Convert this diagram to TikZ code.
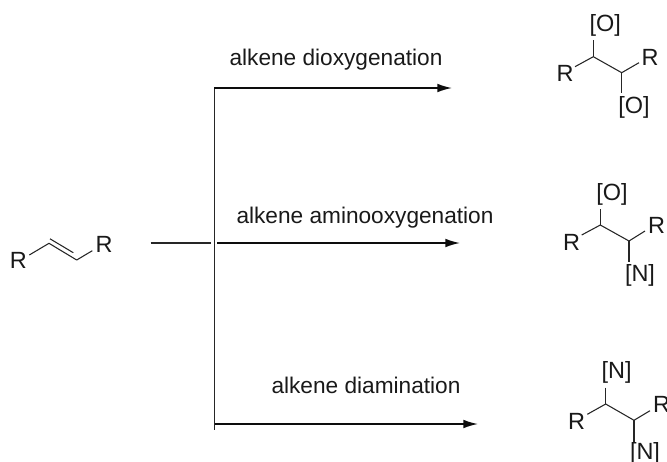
\documentclass[tikz,border=0pt]{standalone}
\usepackage{fontspec}
\setmainfont{Liberation Sans}
\usetikzlibrary{arrows.meta}
\tikzset{
  px/.style={x=0.75pt,y=-0.75pt},
  lab/.style={inner sep=0pt,font=\fontsize{12.75pt}{15pt}\selectfont,text=black!90,scale=1.333},
  atom/.style={inner sep=0pt,font=\fontsize{13.2pt}{15pt}\selectfont,text=black!90,scale=1.333},
  bond/.style={line width=0.8pt,draw=black!85},
  rail/.style={line width=0.85pt,draw=black!85},
  arrowline/.style={line width=1.15pt,draw=black!95,-{Latex[length=11pt,width=6.5pt]}}
}
\begin{document}
\begin{tikzpicture}[px]
\useasboundingbox (0,0) rectangle (667,461);
% rails
\coordinate (vt) at (214.5,87.7);
\coordinate (vb) at (214.5,429.5);
\coordinate (a1s) at (214,88);
\coordinate (a1e) at (452,88);
\coordinate (a2s) at (217,243);
\coordinate (a2e) at (460,243);
\coordinate (a3s) at (215,424);
\coordinate (a3e) at (478,424);
\coordinate (ls) at (150.5,243);
\coordinate (le) at (210.7,243);
\draw[rail] (vt) -- (vb);
\draw[rail] (ls) -- (le);
\draw[arrowline] (a1s) -- (a1e);
\draw[arrowline] (a2s) -- (a2e);
\draw[arrowline] (a3s) -- (a3e);
\node[lab] (t1) at (336,60) {alkene dioxygenation};
\node[lab] (t2) at (365,218) {alkene aminooxygenation};
\node[lab] (t3) at (366,385.5) {alkene diamination};
% alkene
\node[atom] (sl) at (18.3,260.7) {R};
\node[atom] (sr) at (104,244.3) {R};
\coordinate (sa) at (49,243.3);
\coordinate (sb) at (76.7,260);
\coordinate (sla) at (29.3,255);
\coordinate (srb) at (92.3,250.7);
\coordinate (da) at (50,238.8);
\coordinate (db) at (73.3,252.7);
\draw[bond,line join=round] (sla) -- (sa) -- (sb) -- (srb);
\draw[bond] (da) -- (db);
% product 1
\node[atom] (p1l) at (565,73) {R};
\node[atom] (p1r) at (650,57) {R};
\node[atom] (p1t) at (605.3,25.3) {[O]};
\node[atom] (p1b) at (634,107) {[O]};
\coordinate (p1a) at (593.3,56.7);
\coordinate (p1c) at (621.7,72.7);
\coordinate (p1le) at (575,66.7);
\coordinate (p1re) at (639,62.7);
\coordinate (p1te) at (593.3,40);
\coordinate (p1be) at (621.7,93.3);
\draw[bond] (p1le) -- (p1a) -- (p1c) -- (p1re);
\draw[bond] (p1te) -- (p1a);
\draw[bond] (p1c) -- (p1be);
% product 2
\node[atom] (p2l) at (571.7,242.3) {R};
\node[atom] (p2r) at (656.7,225.7) {R};
\node[atom] (p2t) at (612,194) {[O]};
\node[atom] (p2b) at (640,275.7) {[N]};
\coordinate (p2a) at (600.3,225);
\coordinate (p2c) at (629,241);
\coordinate (p2le) at (581.7,235);
\coordinate (p2re) at (645,231);
\coordinate (p2te) at (600.3,209);
\coordinate (p2be) at (629,261.7);
\draw[bond] (p2le) -- (p2a) -- (p2c) -- (p2re);
\draw[bond] (p2te) -- (p2a);
\draw[bond] (p2c) -- (p2be);
% product 3
\node[atom] (p3l) at (576.7,421) {R};
\node[atom] (p3r) at (661.7,404.3) {R};
\node[atom] (p3t) at (616.7,372.7) {[N]};
\node[atom] (p3b) at (645,453) {[N]};
\coordinate (p3a) at (605.7,404);
\coordinate (p3c) at (634,420.3);
\coordinate (p3le) at (587.3,414.3);
\coordinate (p3re) at (650,410.7);
\coordinate (p3te) at (605.7,387.7);
\coordinate (p3be) at (634,441.7);
\draw[bond] (p3le) -- (p3a) -- (p3c) -- (p3re);
\draw[bond] (p3te) -- (p3a);
\draw[bond] (p3c) -- (p3be);
\end{tikzpicture}
\end{document}
